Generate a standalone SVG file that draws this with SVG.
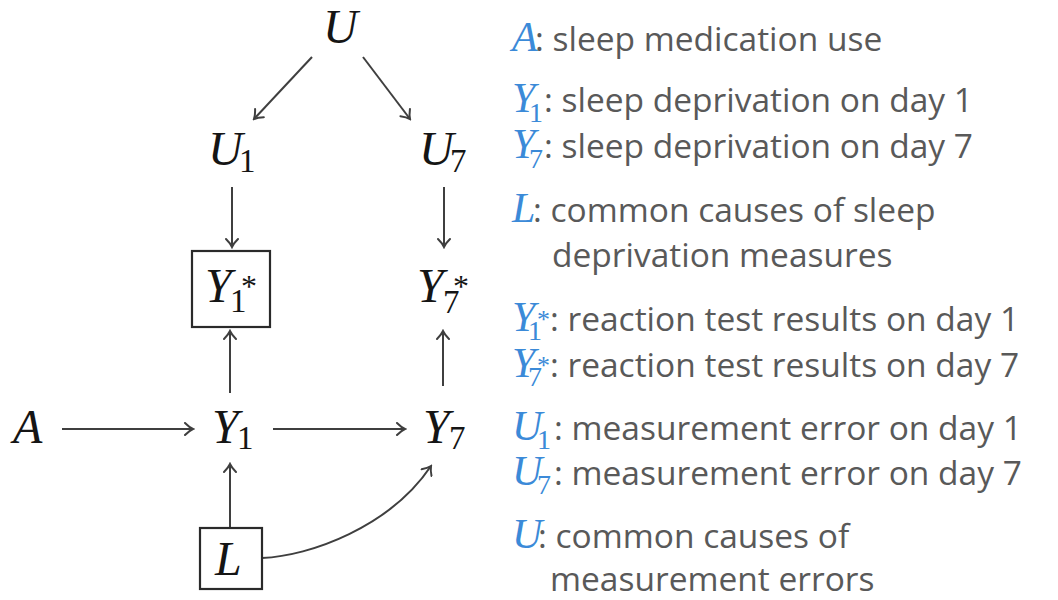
<svg xmlns="http://www.w3.org/2000/svg" width="1058" height="600" viewBox="0 0 1058 600">
  <style>
    .bg { fill: #ffffff; }
    .edge { fill: none; stroke: #3f3f3f; stroke-width: 2; }
    .box { fill: none; stroke: #2a2a2a; stroke-width: 2.2; }
    .var { font-family: "Liberation Serif", "DejaVu Serif", serif; font-style: italic; font-size: 48px; fill: #151515; }
    .sub { font-style: normal; font-size: 33px; }
    .star { font-style: normal; font-size: 32px; }
    .key { font-family: "Liberation Serif", "DejaVu Serif", serif; font-style: italic; font-size: 42px; fill: #3b8ad8; }
    .keysub { font-style: normal; font-size: 28px; }
    .keystar { font-style: normal; font-size: 26px; }
    .desc { font-family: "Open Sans", "Liberation Sans", sans-serif; font-style: normal; font-size: 33.5px; fill: #595959; }
  </style>
  <defs>
    <marker id="arrow" viewBox="-10 -7 12 14" refX="0" refY="0" markerWidth="12" markerHeight="14" markerUnits="userSpaceOnUse" orient="auto">
      <path d="M-8,-6 C-5,-3 -1.8,-0.8 0,0 C-1.8,0.8 -5,3 -8,6" fill="none" stroke="#3f3f3f" stroke-width="2" stroke-linecap="round"/>
    </marker>
  </defs>
  <rect class="bg" x="0" y="0" width="1058" height="600"/>

  <!-- connectors -->
  <g id="edges" marker-end="url(#arrow)">
    <path class="edge" d="M312,57 L254,119"/>
    <path class="edge" d="M363,57 L410,119"/>
    <path class="edge" d="M232,187 L232,247"/>
    <path class="edge" d="M444,187 L444,247"/>
    <path class="edge" d="M230,393 L230,331"/>
    <path class="edge" d="M443,386 L443,331"/>
    <path class="edge" d="M62,429 L193,429"/>
    <path class="edge" d="M273,429 L405,429"/>
    <path class="edge" d="M230,528 L230,464"/>
    <path class="edge" d="M262,558 C310,556 390,527 431,466"/>
  </g>

  <!-- nodes -->
  <g id="node-U">
    <text class="var" x="323" y="43">U</text>
  </g>
  <g id="node-U1">
    <text class="var" x="208" y="165">U<tspan class="sub" x="239" y="172">1</tspan></text>
  </g>
  <g id="node-U7">
    <text class="var" x="419" y="165">U<tspan class="sub" x="450" y="172">7</tspan></text>
  </g>
  <g id="node-Y1star">
    <rect class="box" x="192" y="251" width="78" height="76"/>
    <text class="var" x="205" y="302">Y<tspan class="sub" x="230" y="312">1</tspan><tspan class="star" x="241" y="297">*</tspan></text>
  </g>
  <g id="node-Y7star">
    <text class="var" x="417" y="302">Y<tspan class="sub" x="443" y="313">7</tspan><tspan class="star" x="453" y="297">*</tspan></text>
  </g>
  <g id="node-A">
    <text class="var" x="13" y="443">A</text>
  </g>
  <g id="node-Y1">
    <text class="var" x="212" y="443">Y<tspan class="sub" x="237" y="449">1</tspan></text>
  </g>
  <g id="node-Y7">
    <text class="var" x="423" y="443">Y<tspan class="sub" x="449" y="449">7</tspan></text>
  </g>
  <g id="node-L">
    <rect class="box" x="200" y="528" width="62" height="61"/>
    <text class="var" x="215" y="575">L</text>
  </g>

  <!-- legend -->
  <g id="legend">
    <text class="key" x="512" y="51">A<tspan class="desc" x="535" y="51">: sleep medication use</tspan></text>

    <text class="key" x="512" y="112">Y<tspan class="keysub" x="529" y="122">1</tspan><tspan class="desc" x="544" y="112">: sleep deprivation on day 1</tspan></text>
    <text class="key" x="512" y="158">Y<tspan class="keysub" x="529" y="168">7</tspan><tspan class="desc" x="544" y="158">: sleep deprivation on day 7</tspan></text>

    <text class="key" x="512" y="222">L<tspan class="desc" x="533" y="222">: common causes of sleep</tspan></text>
    <text class="desc" x="552" y="267">deprivation measures</text>

    <text class="key" x="512" y="331">Y<tspan class="keysub" x="528" y="340">1</tspan><tspan class="keystar" x="537" y="328">*</tspan><tspan class="desc" x="550" y="331">: reaction test results on day 1</tspan></text>
    <text class="key" x="512" y="377">Y<tspan class="keysub" x="528" y="386">7</tspan><tspan class="keystar" x="537" y="374">*</tspan><tspan class="desc" x="550" y="377">: reaction test results on day 7</tspan></text>

    <text class="key" x="512" y="440">U<tspan class="keysub" x="537" y="449">1</tspan><tspan class="desc" x="554" y="440">: measurement error on day 1</tspan></text>
    <text class="key" x="512" y="485">U<tspan class="keysub" x="537" y="494">7</tspan><tspan class="desc" x="554" y="485">: measurement error on day 7</tspan></text>

    <text class="key" x="512" y="548">U<tspan class="desc" x="538" y="548">: common causes of</tspan></text>
    <text class="desc" x="550" y="591">measurement errors</text>
  </g>
</svg>
